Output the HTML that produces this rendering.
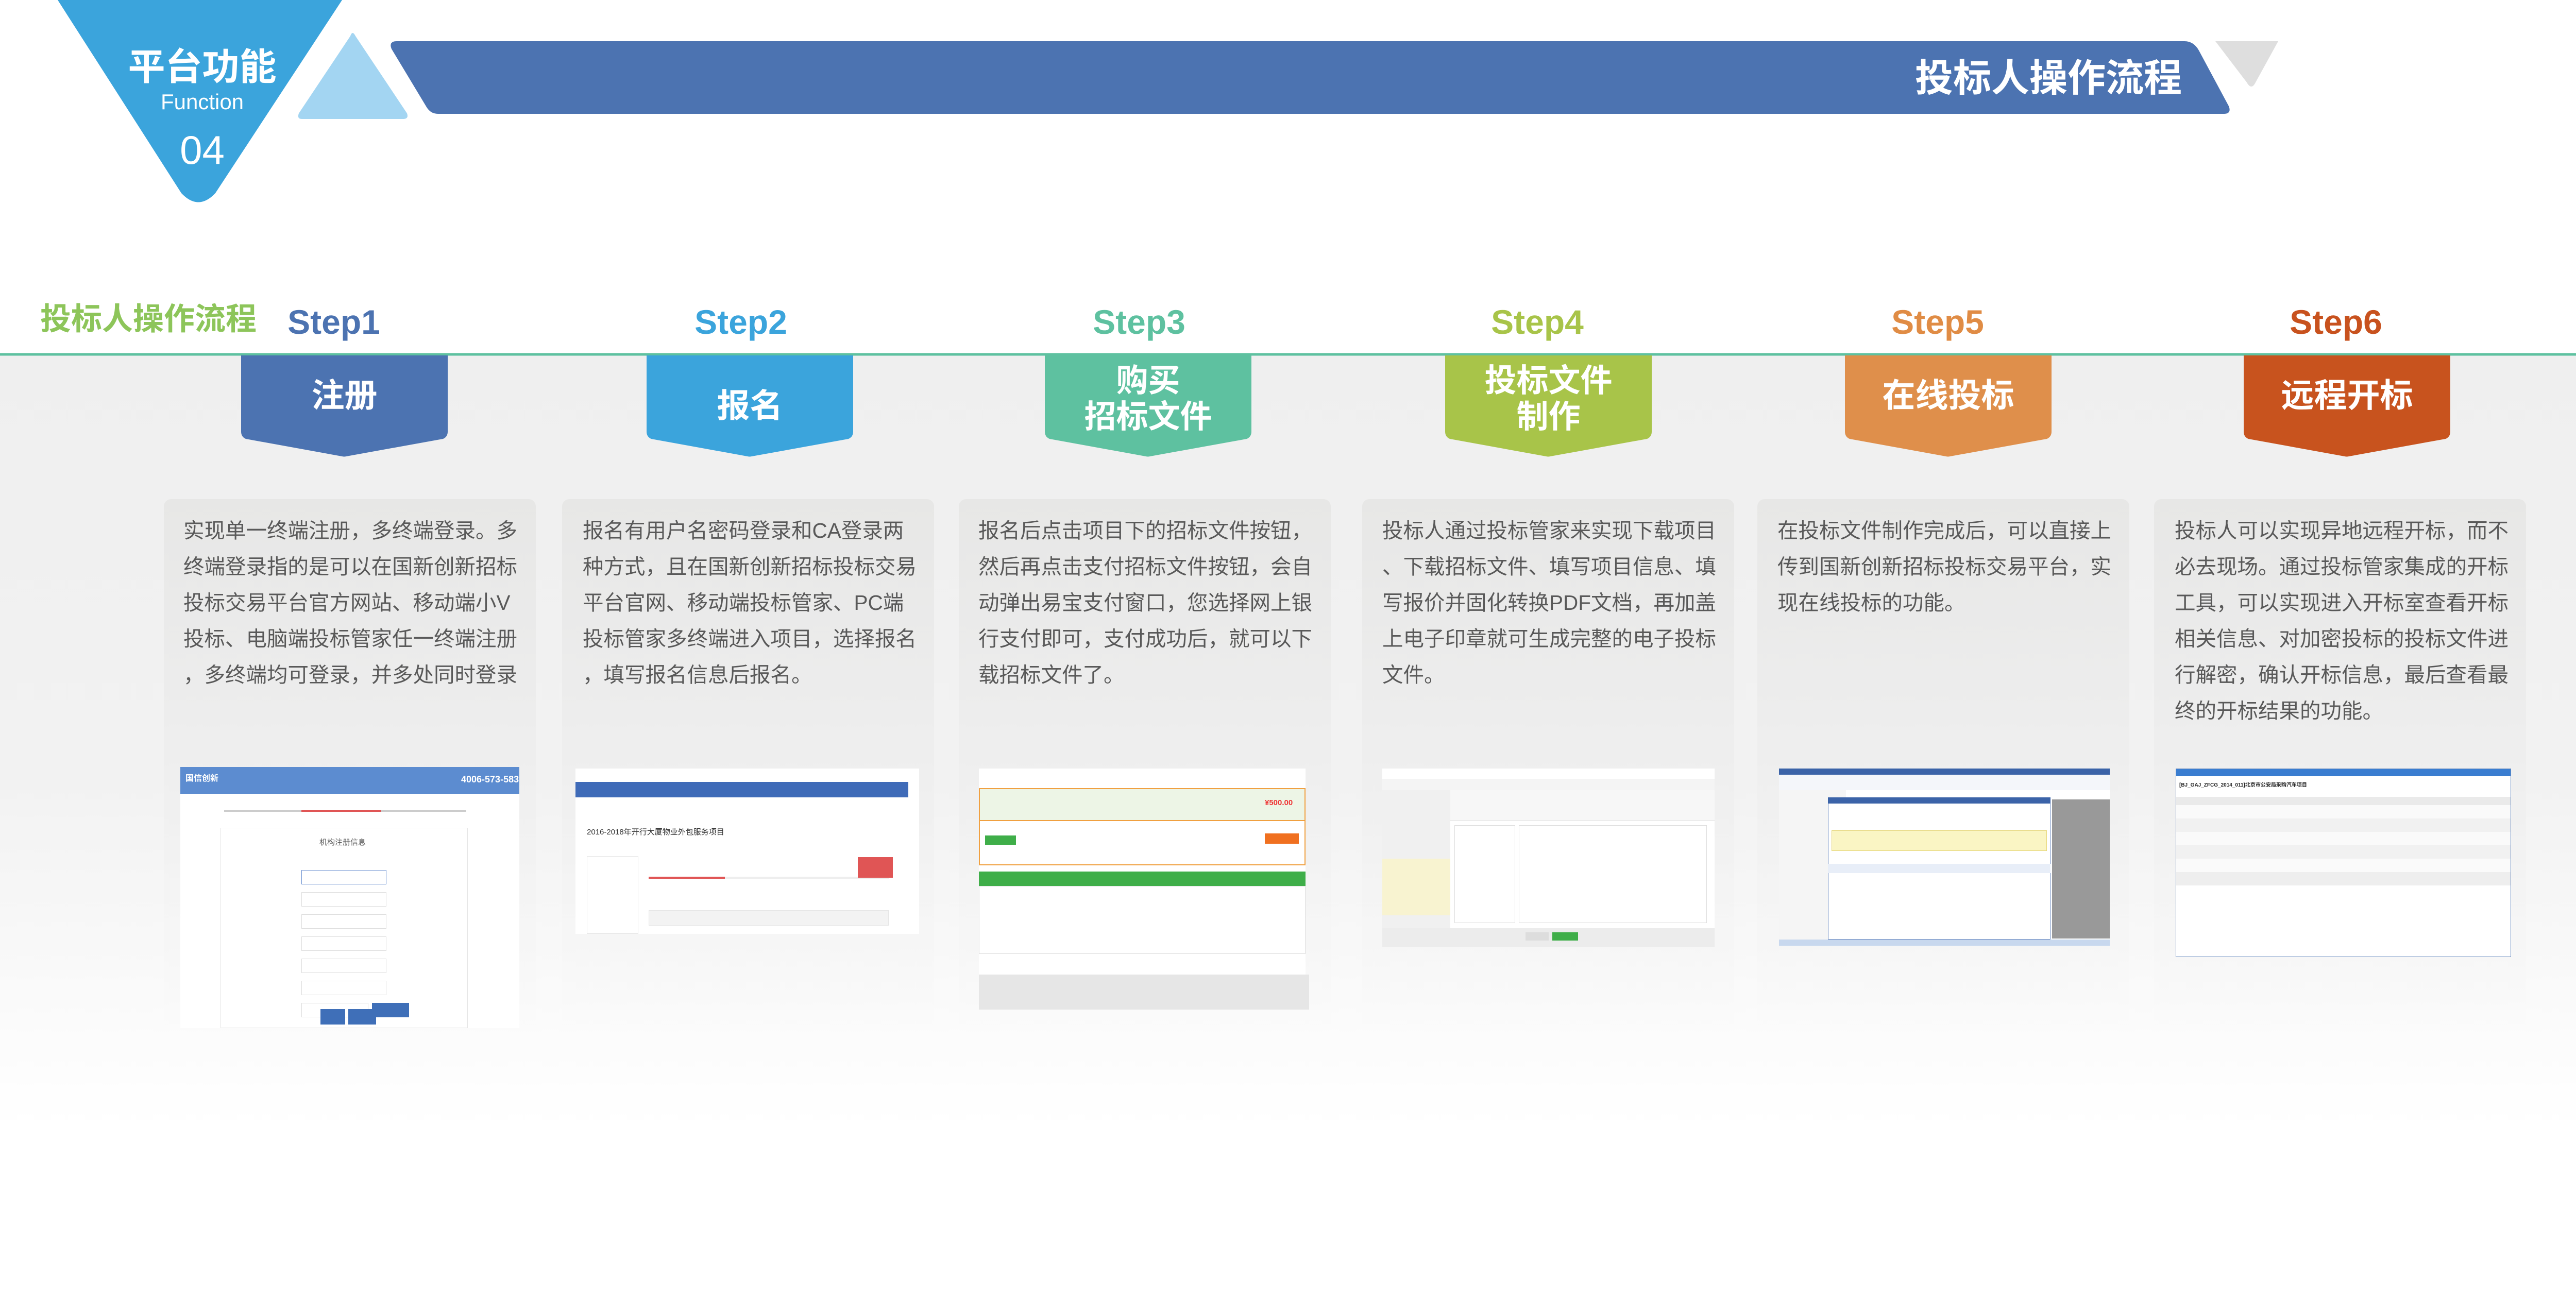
<!DOCTYPE html>
<html><head><meta charset="utf-8">
<style>
*{margin:0;padding:0;box-sizing:border-box}
body{width:5031px;height:2551px;position:relative;overflow:hidden;background:#fff;font-family:"Liberation Sans","Noto Sans CJK SC",sans-serif}
.abs{position:absolute}
.bg{left:0;top:689px;width:5031px;height:1500px;background:linear-gradient(#efefef 0%,#f2f2f2 55%,#ffffff 100%)}
.step{top:585px;width:400px;text-align:center;font-size:66px;font-weight:bold;line-height:80px}
.card{top:969px;width:722px;height:1040px;border-radius:14px;background:linear-gradient(#e7e7e6 0%,#ededed 40%,rgba(245,245,245,0.6) 80%,rgba(255,255,255,0) 100%)}
.txt{position:absolute;top:995px;font-size:40.5px;line-height:70px;color:#595959;white-space:nowrap}
.shot{background:#fff;border:1px solid #ddd;overflow:hidden}
</style></head><body>

<div class="abs bg"></div>

<svg class="abs" style="left:0;top:0" width="5031" height="700">
  <path d="M112 0 L664 0 L418 375 Q385 410 352 375 Z" fill="#3BA4DC"/>
  <path d="M680 70 Q684 58 690 70 L790 220 Q794 231 782 231 L586 231 Q576 231 580 220 Z" fill="#A3D5F2"/>
  <path d="M770 80 L4240 80 Q4258 80 4268 98 L4326 206 Q4332 221 4316 221 L850 221 Q836 221 828 208 L760 95 Q754 80 770 80 Z" fill="#4C73B1"/>
  <path d="M4300 80 L4422 80 L4378 160 Q4370 176 4361 160 Z" fill="#DEDEDE"/>
  <line x1="0" y1="688" x2="5031" y2="688" stroke="#5EC1A0" stroke-width="5"/>
</svg>
<div class="abs" style="left:230px;top:88px;width:325px;text-align:center;color:#fff;font-size:72px;font-weight:bold;line-height:86px">平台功能</div>
<div class="abs" style="left:230px;top:172px;width:325px;text-align:center;color:#fff;font-size:42px;line-height:52px">Function</div>
<div class="abs" style="left:230px;top:245px;width:325px;text-align:center;color:#fff;font-size:78px;line-height:92px">04</div>
<div class="abs" style="left:3300px;top:108px;width:935px;text-align:right;color:#fff;font-size:74px;font-weight:bold;line-height:88px">投标人操作流程</div>
<div class="abs" style="left:78px;top:582px;color:#8DC55A;font-size:60px;font-weight:bold;line-height:76px">投标人操作流程</div>

<div class="abs step" style="left:448px;color:#4C73B1">Step1</div>
<div class="abs step" style="left:1238px;color:#3BA4DC">Step2</div>
<div class="abs step" style="left:2011px;color:#5EC1A0">Step3</div>
<div class="abs step" style="left:2784px;color:#A8C449">Step4</div>
<div class="abs step" style="left:3561px;color:#E08C45">Step5</div>
<div class="abs step" style="left:4334px;color:#C8521E">Step6</div>

<svg class="abs" style="left:0;top:690px" width="5031" height="210">
 <path d="M468 0 H869 V148 Q869 158 860 162 L672 196 Q668 197 664 196 L477 162 Q468 158 468 148 Z" fill="#4C73B1"/>
 <path d="M1255 0 H1656 V148 Q1656 158 1647 162 L1459 196 Q1455 197 1451 196 L1264 162 Q1255 158 1255 148 Z" fill="#3BA4DC"/>
 <path d="M2028 0 H2429 V148 Q2429 158 2420 162 L2232 196 Q2228 197 2224 196 L2037 162 Q2028 158 2028 148 Z" fill="#5EC1A0"/>
 <path d="M2805 0 H3206 V148 Q3206 158 3197 162 L3009 196 Q3005 197 3001 196 L2814 162 Q2805 158 2805 148 Z" fill="#A8C449"/>
 <path d="M3581 0 H3982 V148 Q3982 158 3973 162 L3785 196 Q3781 197 3777 196 L3590 162 Q3581 158 3581 148 Z" fill="#DF8F4B"/>
 <path d="M4355 0 H4756 V148 Q4756 158 4747 162 L4559 196 Q4555 197 4551 196 L4364 162 Q4355 158 4355 148 Z" fill="#C8531E"/>
</svg>
<div class="abs" style="left:468px;top:728px;width:401px;text-align:center;color:#fff;font-size:64px;font-weight:bold;line-height:80px">注册</div>
<div class="abs" style="left:1255px;top:748px;width:401px;text-align:center;color:#fff;font-size:64px;font-weight:bold;line-height:80px">报名</div>
<div class="abs" style="left:2028px;top:705px;width:401px;text-align:center;color:#fff;font-size:62px;font-weight:bold;line-height:70px">购买<br>招标文件</div>
<div class="abs" style="left:2805px;top:705px;width:401px;text-align:center;color:#fff;font-size:62px;font-weight:bold;line-height:70px">投标文件<br>制作</div>
<div class="abs" style="left:3581px;top:728px;width:401px;text-align:center;color:#fff;font-size:64px;font-weight:bold;line-height:80px">在线投标</div>
<div class="abs" style="left:4355px;top:728px;width:401px;text-align:center;color:#fff;font-size:64px;font-weight:bold;line-height:80px">远程开标</div>

<div class="abs card" style="left:318px"></div>
<div class="abs card" style="left:1091px"></div>
<div class="abs card" style="left:1861px"></div>
<div class="abs card" style="left:2644px"></div>
<div class="abs card" style="left:3411px"></div>
<div class="abs card" style="left:4181px"></div>

<div class="txt" style="left:356px">实现单一终端注册，多终端登录。多<br>终端登录指的是可以在国新创新招标<br>投标交易平台官方网站、移动端小V<br>投标、电脑端投标管家任一终端注册<br>，多终端均可登录，并多处同时登录</div>
<div class="txt" style="left:1131px">报名有用户名密码登录和CA登录两<br>种方式，且在国新创新招标投标交易<br>平台官网、移动端投标管家、PC端<br>投标管家多终端进入项目，选择报名<br>，填写报名信息后报名。</div>
<div class="txt" style="left:1899px">报名后点击项目下的招标文件按钮，<br>然后再点击支付招标文件按钮，会自<br>动弹出易宝支付窗口，您选择网上银<br>行支付即可，支付成功后，就可以下<br>载招标文件了。</div>
<div class="txt" style="left:2683px">投标人通过投标管家来实现下载项目<br>、下载招标文件、填写项目信息、填<br>写报价并固化转换PDF文档，再加盖<br>上电子印章就可生成完整的电子投标<br>文件。</div>
<div class="txt" style="left:3450px">在投标文件制作完成后，可以直接上<br>传到国新创新招标投标交易平台，实<br>现在线投标的功能。</div>
<div class="txt" style="left:4221px">投标人可以实现异地远程开标，而不<br>必去现场。通过投标管家集成的开标<br>工具，可以实现进入开标室查看开标<br>相关信息、对加密投标的投标文件进<br>行解密，确认开标信息，最后查看最<br>终的开标结果的功能。</div>

<div class="abs shot" style="left:350px;top:1489px;width:658px;height:507px;border:none">
  <div class="abs" style="left:0;top:0;width:658px;height:52px;background:#5C8CD0"></div>
  <div class="abs" style="left:10px;top:8px;color:#fff;font-size:16px;font-weight:bold">国信创新</div>
  <div class="abs" style="left:545px;top:14px;color:#fff;font-size:18px;font-weight:bold">4006-573-583</div>
  <div class="abs" style="left:85px;top:84px;width:470px;height:3px;background:#ccc"></div>
  <div class="abs" style="left:235px;top:84px;width:155px;height:3px;background:#e05555"></div>
  <div class="abs" style="left:78px;top:118px;width:480px;height:389px;border:1px solid #e5e5e5"></div>
  <div class="abs" style="left:270px;top:135px;font-size:15px;color:#555">机构注册信息</div>
  <div class="abs" style="left:235px;top:200px;width:165px;height:28px;border:1px solid #6a8fd0"></div>
  <div class="abs" style="left:235px;top:243px;width:165px;height:28px;border:1px solid #ddd"></div>
  <div class="abs" style="left:235px;top:286px;width:165px;height:28px;border:1px solid #ddd"></div>
  <div class="abs" style="left:235px;top:329px;width:165px;height:28px;border:1px solid #ddd"></div>
  <div class="abs" style="left:235px;top:372px;width:165px;height:28px;border:1px solid #ddd"></div>
  <div class="abs" style="left:235px;top:415px;width:165px;height:28px;border:1px solid #ddd"></div>
  <div class="abs" style="left:235px;top:458px;width:130px;height:28px;border:1px solid #ddd"></div>
  <div class="abs" style="left:372px;top:458px;width:72px;height:28px;background:#3f6fb8"></div>
  <div class="abs" style="left:272px;top:470px;width:48px;height:30px;background:#3f6fb8"></div>
  <div class="abs" style="left:326px;top:470px;width:54px;height:30px;background:#3f6fb8"></div>
</div>

<div class="abs shot" style="left:1117px;top:1492px;width:667px;height:321px;border:none">
  <div class="abs" style="left:0;top:26px;width:646px;height:30px;background:#3F6BB8"></div>
  <div class="abs" style="left:22px;top:112px;font-size:15px;color:#333">2016-2018年开行大厦物业外包服务项目</div>
  <div class="abs" style="left:22px;top:170px;width:100px;height:151px;border:1px solid #e5e5e5"></div>
  <div class="abs" style="left:142px;top:210px;width:466px;height:4px;background:#eee"></div>
  <div class="abs" style="left:142px;top:210px;width:148px;height:4px;background:#e05555"></div>
  <div class="abs" style="left:142px;top:275px;width:466px;height:30px;background:#f3f3f3;border:1px solid #e5e5e5"></div>
  <div class="abs" style="left:548px;top:172px;width:68px;height:40px;background:#e05555"></div>
  <div class="abs" style="left:350px;top:343px;font-size:14px;color:#d33">招标公告</div>
</div>

<div class="abs shot" style="left:1900px;top:1492px;width:641px;height:468px;border:none;background:transparent">
  <div class="abs" style="left:0;top:0;width:634px;height:430px;background:#fff"></div>
  <div class="abs" style="left:0;top:38px;width:634px;height:64px;border:2px solid #f0a040;background:#edf5e6"></div>
  <div class="abs" style="left:0;top:102px;width:634px;height:86px;border:2px solid #f0a040;border-top:none"></div>
  <div class="abs" style="left:555px;top:58px;font-size:15px;color:#e33;font-weight:bold">¥500.00</div>
  <div class="abs" style="left:12px;top:130px;width:60px;height:18px;background:#3fae49"></div>
  <div class="abs" style="left:555px;top:126px;width:66px;height:20px;background:#f07020"></div>
  <div class="abs" style="left:0;top:200px;width:634px;height:28px;background:#3fae49"></div>
  <div class="abs" style="left:0;top:228px;width:634px;height:132px;border:1px solid #ddd"></div>
  <div class="abs" style="left:0;top:400px;width:641px;height:68px;background:#e6e6e6"></div>
</div>

<div class="abs shot" style="left:2683px;top:1492px;width:645px;height:347px;border:none">
  <div class="abs" style="left:0;top:20px;width:645px;height:22px;background:#f4f4f4"></div>
  <div class="abs" style="left:0;top:42px;width:132px;height:270px;background:#f0f0f0"></div>
  <div class="abs" style="left:0;top:175px;width:132px;height:110px;background:#f8f3d0"></div>
  <div class="abs" style="left:132px;top:42px;width:513px;height:60px;background:#f7f7f7;border-bottom:1px solid #ddd"></div>
  <div class="abs" style="left:140px;top:110px;width:118px;height:190px;border:1px solid #ddd"></div>
  <div class="abs" style="left:265px;top:110px;width:365px;height:190px;background:#fff;border:1px solid #ddd"></div>
  <div class="abs" style="left:0;top:310px;width:645px;height:37px;background:#ececec"></div>
  <div class="abs" style="left:278px;top:318px;width:45px;height:16px;background:#ddd"></div>
  <div class="abs" style="left:330px;top:318px;width:50px;height:16px;background:#3fae49"></div>
</div>

<div class="abs shot" style="left:3453px;top:1492px;width:642px;height:344px;border:none">
  <div class="abs" style="left:0;top:0;width:642px;height:12px;background:#3b63a8"></div>
  <div class="abs" style="left:0;top:12px;width:642px;height:30px;background:#f4f6fa"></div>
  <div class="abs" style="left:0;top:42px;width:130px;height:300px;background:#f5f5f5"></div>
  <div class="abs" style="left:530px;top:60px;width:112px;height:270px;background:#999"></div>
  <div class="abs" style="left:95px;top:56px;width:432px;height:276px;background:#fff;border:1px solid #6b89c0"></div>
  <div class="abs" style="left:95px;top:56px;width:432px;height:12px;background:#3b63a8"></div>
  <div class="abs" style="left:102px;top:120px;width:418px;height:40px;background:#faf5c4;border:1px solid #e6d67a"></div>
  <div class="abs" style="left:95px;top:185px;width:432px;height:18px;background:#e8eef8"></div>
  <div class="abs" style="left:0;top:332px;width:642px;height:12px;background:#c8d8ee"></div>
</div>

<div class="abs shot" style="left:4223px;top:1492px;width:651px;height:366px;border:1px solid #6f8fc0">
  <div class="abs" style="left:0;top:0;width:651px;height:14px;background:#3a7dd0"></div>
  <div class="abs" style="left:0;top:54px;width:651px;height:16px;background:#eaeaea"></div>
  <div class="abs" style="left:0;top:70px;width:651px;height:26px;background:#fafafa"></div>
  <div class="abs" style="left:0;top:96px;width:651px;height:26px;background:#f1f1f1"></div>
  <div class="abs" style="left:0;top:122px;width:651px;height:26px;background:#fafafa"></div>
  <div class="abs" style="left:0;top:148px;width:651px;height:26px;background:#f1f1f1"></div>
  <div class="abs" style="left:0;top:174px;width:651px;height:26px;background:#fafafa"></div>
  <div class="abs" style="left:0;top:200px;width:651px;height:26px;background:#eeeeee"></div>
  <div class="abs" style="left:6px;top:22px;font-size:10px;color:#222;font-weight:bold">[BJ_GAJ_ZFCG_2014_011]北京市公安局采购汽车项目</div>
</div>

</body></html>
